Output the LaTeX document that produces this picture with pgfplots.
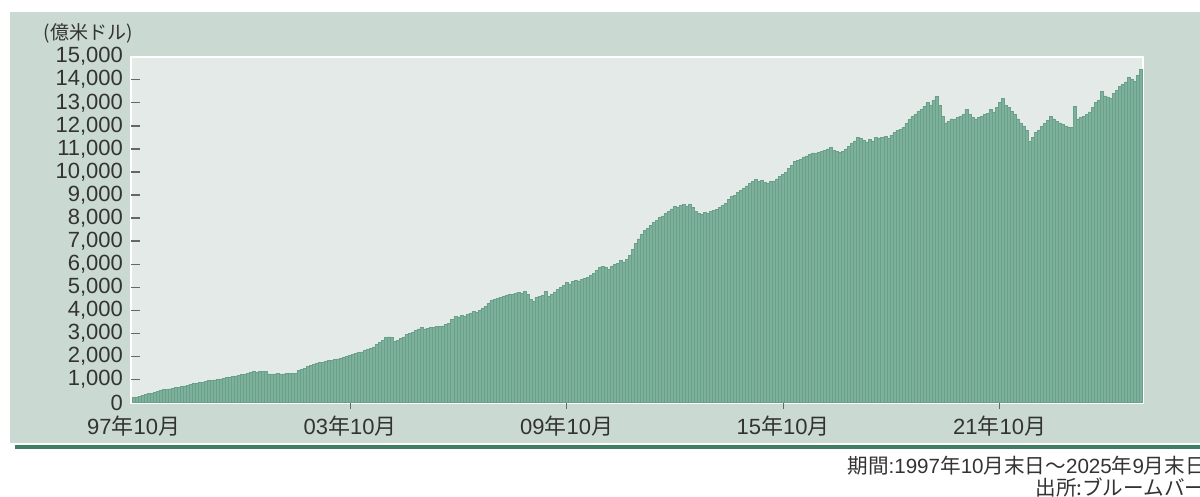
\documentclass[border=0pt]{standalone}
\usepackage{pgfplots}
\pgfplotsset{compat=1.18}
\usepackage{pgfplotstable}
\usepackage{fontspec}
\setmainfont{Liberation Sans}
\newfontfamily\jp{Noto Sans CJK JP}
\definecolor{panel}{HTML}{CBD9D3}
\definecolor{plotbg}{HTML}{E4EAE7}
\definecolor{barfill}{HTML}{7DB19B}
\definecolor{barline}{HTML}{6A9F89}
\definecolor{darkline}{HTML}{3F7D68}
\definecolor{txt}{HTML}{333333}
\definecolor{tickc}{HTML}{666666}

\pgfplotstableread[row sep=\\]{
v\\
220\\250\\285\\320\\350\\390\\420\\460\\490\\520\\560\\575\\
600\\620\\650\\680\\700\\730\\760\\790\\820\\850\\870\\890\\
920\\950\\970\\990\\1010\\1030\\1060\\1080\\1120\\1140\\1160\\1180\\
1210\\1240\\1270\\1300\\1340\\1330\\1350\\1340\\1340\\1250\\1240\\1250\\
1260\\1240\\1250\\1270\\1260\\1260\\1280\\1400\\1450\\1500\\1560\\1600\\
1650\\1690\\1730\\1760\\1790\\1820\\1850\\1870\\1900\\1920\\1950\\1990\\
2040\\2080\\2120\\2170\\2200\\2250\\2300\\2350\\2420\\2510\\2600\\2700\\
2820\\2850\\2820\\2650\\2700\\2780\\2850\\2950\\3000\\3050\\3120\\3200\\
3250\\3200\\3230\\3280\\3260\\3300\\3300\\3330\\3380\\3450\\3600\\3730\\
3700\\3780\\3750\\3810\\3880\\3950\\3900\\4000\\4080\\4160\\4300\\4420\\
4480\\4520\\4560\\4590\\4650\\4700\\4680\\4750\\4780\\4720\\4810\\4700\\
4460\\4400\\4550\\4600\\4650\\4810\\4590\\4700\\4800\\4900\\5000\\5100\\
5200\\5150\\5250\\5300\\5280\\5350\\5400\\5420\\5500\\5600\\5750\\5850\\
5900\\5850\\5770\\5900\\6000\\6050\\6150\\6100\\6200\\6400\\6650\\6900\\
7100\\7300\\7450\\7550\\7700\\7800\\7900\\8020\\8100\\8200\\8300\\8400\\
8500\\8450\\8550\\8600\\8500\\8580\\8450\\8300\\8200\\8150\\8250\\8200\\
8300\\8350\\8370\\8450\\8550\\8650\\8800\\8930\\9000\\9100\\9200\\9300\\
9400\\9500\\9600\\9670\\9600\\9650\\9550\\9500\\9580\\9600\\9700\\9800\\
9900\\9970\\10150\\10300\\10450\\10500\\10550\\10650\\10700\\10750\\10830\\10800\\
10850\\10900\\10950\\11000\\11050\\10950\\10900\\10850\\10880\\11000\\11100\\11250\\
11350\\11490\\11450\\11380\\11300\\11400\\11350\\11490\\11450\\11500\\11530\\11450\\
11600\\11700\\11800\\11850\\11920\\12100\\12270\\12400\\12500\\12610\\12700\\12850\\
13000\\12900\\13100\\13260\\12900\\12400\\12130\\12200\\12300\\12270\\12350\\12400\\
12500\\12700\\12500\\12350\\12270\\12350\\12400\\12480\\12550\\12700\\12600\\12800\\
13000\\13200\\12900\\12800\\12610\\12500\\12300\\12130\\12000\\11800\\11310\\11500\\
11700\\11800\\11960\\12100\\12250\\12400\\12300\\12200\\12130\\12050\\12000\\11950\\
11920\\12830\\12300\\12350\\12400\\12480\\12600\\12800\\13000\\13100\\13480\\13300\\
13250\\13200\\13400\\13550\\13700\\13800\\13900\\14090\\14000\\13910\\14200\\14430\\
}\datatable

\begin{document}
\begin{tikzpicture}
\useasboundingbox (0,0) rectangle (600pt,248.5pt);
\clip (0,0) rectangle (600pt,248.5pt);
\fill[white] (0,0) rectangle (600pt,248.5pt);
% panel
\fill[panel] (5pt,27pt) rectangle (606pt,242.5pt);
\draw[darkline, line width=2pt] (7.5pt,25pt) -- (606pt,25pt);
% unit label
\node[txt, font=\jp\fontsize{9.5pt}{11pt}\selectfont] at (44pt,232pt) {(億米ドル)};
% footer
\node[txt, anchor=west, inner sep=0pt, font=\fontsize{10.3pt}{12pt}\selectfont] at (423.5pt,15.5pt)
  {{\jp 期間}:1997{\jp 年}10{\jp 月末日～}2025{\jp 年}9{\jp 月末日}};
\node[txt, anchor=west, inner sep=0pt, font=\jp\fontsize{10.3pt}{12pt}\selectfont] at (517.5pt,4.5pt)
  {出所:ブルームバーグ};
\begin{axis}[
  at={(65.5pt,47.15pt)}, anchor=south west,
  width=506pt, height=173.05pt, scale only axis,
  xmin=-0.85, xmax=335.7, ymin=0, ymax=15000,
  axis background/.style={fill=plotbg},
  axis line style={draw=white, line width=1pt},
  ybar, bar width=1,
  ytick={0,1000,...,15000},
  scaled y ticks=false,
  xtick={0,72,144,216,288},
  xticklabels={97{\jp 年}10{\jp 月},03{\jp 年}10{\jp 月},09{\jp 年}10{\jp 月},15{\jp 年}10{\jp 月},21{\jp 年}10{\jp 月}},
  major tick length=0pt,
  xtick pos=bottom, ytick pos=left,
  /pgf/number format/assume math mode=true,
  yticklabel style={/pgf/number format/1000 sep={,}, text=txt, font=\fontsize{11pt}{12pt}\selectfont, xshift=-0.5pt},
  xticklabel style={text=txt, font=\fontsize{11pt}{12pt}\selectfont, yshift=-3pt},
  extra y ticks={1000,2000,...,14000},
  extra y tick labels={},
  extra y tick style={major tick length=4.5pt, tick align=inside, tick style={draw=tickc, line width=0.7pt}},
  extra x ticks={72,144,216,288},
  extra x tick labels={},
  extra x tick style={major tick length=3pt, tick align=outside, tick style={draw=tickc, line width=0.4pt}},
]
\addplot[fill=barfill, draw=barline, line width=0.3pt] table[x expr=\coordindex, y=v] {\datatable};
\end{axis}
\end{tikzpicture}
\end{document}
